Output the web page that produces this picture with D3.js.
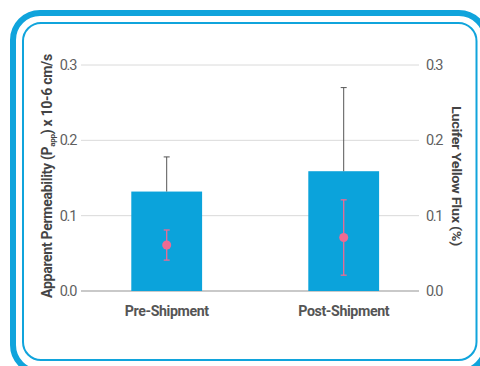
<!DOCTYPE html>
<html>
<head>
<meta charset="utf-8">
<script src="https://cdn.jsdelivr.net/npm/d3@7"></script>
<style>
  html, body { margin: 0; padding: 0; background: #fff; }
  svg { display: block; font-family: Roboto, "Liberation Sans", sans-serif; }
</style>
</head>
<body>
<svg id="chart" width="480" height="366"></svg>
<script>
// Sample groups
const categories = ["Pre-Shipment", "Post-Shipment"];
// Apparent permeability (bars, left axis) with upper error
const pappMean = [0.132, 0.159];
const pappErr = [0.046, 0.111];
// Lucifer yellow flux (points, right axis) with symmetric error
const fluxMean = [0.061, 0.071];
const fluxErr = [0.020, 0.050];
// Axis ticks
const leftTicks = [0.0, 0.1, 0.2, 0.3];
const rightTicks = [0.0, 0.1, 0.2, 0.3];

const svg = d3.select("#chart");
const blue = "#10a4dc";
const pink = "#ef6a92";

// Framing borders
svg.append("rect")
  .attr("x", 13).attr("y", 13).attr("width", 473).attr("height", 359)
  .attr("rx", 27).attr("ry", 27)
  .attr("fill", "none").attr("stroke", blue).attr("stroke-width", 6);
svg.append("rect")
  .attr("x", 23).attr("y", 23).attr("width", 453.5).attr("height", 337)
  .attr("rx", 18).attr("ry", 18)
  .attr("fill", "none").attr("stroke", blue).attr("stroke-width", 2);

const plotLeft = 81, plotRight = 419, plotTop = 65, plotBottom = 291;

const yL = d3.scaleLinear().domain([0, 0.3]).range([plotBottom, plotTop]);
const yR = d3.scaleLinear().domain([0, 0.3]).range([plotBottom, plotTop]);
const x = d3.scaleBand().domain(categories)
  .range([78.2, 432.2]).paddingInner(0.6).paddingOuter(0.3);

// Squeeze a text element horizontally (in its own frame) to a target length
function squeeze(sel, base, target) {
  const w = sel.node().getComputedTextLength();
  sel.attr("transform", `${base} scale(${target / w},1)`);
}

// Gridlines
svg.append("g").selectAll("line").data(leftTicks).join("line")
  .attr("x1", plotLeft).attr("x2", plotRight)
  .attr("y1", d => yL(d)).attr("y2", d => yL(d))
  .attr("stroke", d => d === 0 ? "#c9c9c9" : "#dadada")
  .attr("stroke-width", d => d === 0 ? 2 : 1);

// Left axis
const leftAxis = svg.append("g")
  .attr("transform", `translate(${plotLeft - 5},0)`)
  .call(d3.axisLeft(yL).tickValues(leftTicks).tickFormat(d3.format(".1f")).tickSize(0).tickPadding(0));
// Right axis
const rightAxis = svg.append("g")
  .attr("transform", `translate(${plotRight + 7},0)`)
  .call(d3.axisRight(yR).tickValues(rightTicks).tickFormat(d3.format(".1f")).tickSize(0).tickPadding(0));
[leftAxis, rightAxis].forEach(g => {
  g.select(".domain").remove();
  g.selectAll("text")
    .attr("fill", "#5f5f5f")
    .style("font-size", "14.5px")
    .style("letter-spacing", "-1.3px")
    .style("font-family", "Roboto, sans-serif");
});

// Bars
svg.append("g").selectAll("rect").data(categories).join("rect")
  .attr("x", d => x(d))
  .attr("width", x.bandwidth())
  .attr("y", (d, i) => yL(pappMean[i]))
  .attr("height", (d, i) => yL(0) - yL(pappMean[i]))
  .attr("fill", "#0ba3db");

// Bar error bars (upper only)
const be = svg.append("g").attr("stroke", "#555").attr("stroke-width", 1);
categories.forEach((c, i) => {
  const cx = x(c) + x.bandwidth() / 2;
  const top = yL(pappMean[i] + pappErr[i]);
  be.append("line").attr("x1", cx).attr("x2", cx)
    .attr("y1", yL(pappMean[i])).attr("y2", top);
  be.append("line").attr("x1", cx - 3).attr("x2", cx + 3)
    .attr("y1", top).attr("y2", top);
});

// Flux points with error bars
const fe = svg.append("g");
categories.forEach((c, i) => {
  const cx = x(c) + x.bandwidth() / 2;
  const hi = yR(fluxMean[i] + fluxErr[i]);
  const lo = yR(fluxMean[i] - fluxErr[i]);
  fe.append("line").attr("x1", cx).attr("x2", cx).attr("y1", hi).attr("y2", lo)
    .attr("stroke", pink).attr("stroke-width", 1.3);
  [hi, lo].forEach(v => fe.append("line")
    .attr("x1", cx - 3).attr("x2", cx + 3).attr("y1", v).attr("y2", v)
    .attr("stroke", pink).attr("stroke-width", 1.3));
  fe.append("circle").attr("cx", cx).attr("cy", yR(fluxMean[i])).attr("r", 4.5)
    .attr("fill", pink);
});

// Category labels
const catWidths = [84, 91];
categories.forEach((c, i) => {
  const t = svg.append("text")
    .attr("text-anchor", "middle")
    .attr("fill", "#555")
    .style("font-size", "14.5px")
    .style("font-weight", "700")
    .style("letter-spacing", "-0.4px")
    .text(c);
  squeeze(t, `translate(${x(c) + x.bandwidth() / 2},316)`, catWidths[i]);
});

const midY = (plotTop + plotBottom) / 2 - 2;

// Left axis title
const lt = svg.append("text")
  .attr("text-anchor", "middle")
  .attr("fill", "#444")
  .style("font-size", "14px")
  .style("font-weight", "700")
  .style("letter-spacing", "-0.3px");
lt.append("tspan").text("Apparent Permeability (P");
lt.append("tspan").style("font-size", "8px").attr("dy", 3).text("app");
lt.append("tspan").attr("dy", -3).text(") x 10-6 cm/s");
squeeze(lt, `translate(51.5,${midY}) rotate(-90)`, 244);

// Right axis title
const rt = svg.append("text")
  .attr("text-anchor", "middle")
  .attr("fill", "#444")
  .style("font-size", "13.5px")
  .style("font-weight", "700")
  .style("letter-spacing", "-0.3px")
  .text("Lucifer Yellow Flux (%)");
squeeze(rt, `translate(452,${midY}) rotate(90)`, 140);
</script>
</body>
</html>
